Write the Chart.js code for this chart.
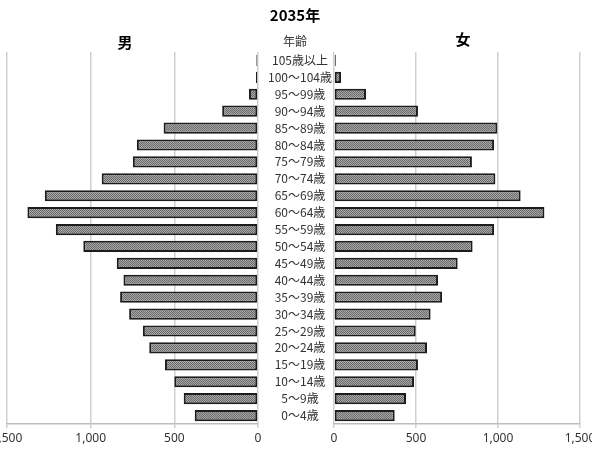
<!DOCTYPE html>
<html>
<head>
<meta charset="utf-8">
<script src="https://cdn.jsdelivr.net/npm/chart.js@4/dist/chart.umd.min.js"></script>
<style>
  body { margin: 0; background: #fff; width: 592px; height: 449px; overflow: hidden; position: relative; font-family: "Noto Sans CJK JP", "Noto Sans", sans-serif; }
  #male { position: absolute; left: 0; top: 0; }
  #female { position: absolute; left: 294px; top: 0; }
  .lbl { position: absolute; transform: translate(-50%, -50%); white-space: nowrap; color: #000; }
</style>
</head>
<body>
<canvas id="male" width="334" height="449"></canvas>
<canvas id="female" width="298" height="449"></canvas>
<div class="lbl" style="left:295px; top:14px; font-size:15px; font-weight:bold;">2035年</div>
<div class="lbl" style="left:125px; top:41px; font-size:15px; font-weight:bold;">男</div>
<div class="lbl" style="left:463px; top:38px; font-size:15px; font-weight:bold;">女</div>
<div class="lbl" style="left:295px; top:40px; font-size:12px; color:#333;">年齢</div>
<script>
var ages = ['105歳以上', '100〜104歳', '95〜99歳', '90〜94歳', '85〜89歳', '80〜84歳', '75〜79歳', '70〜74歳',
  '65〜69歳', '60〜64歳', '55〜59歳', '50〜54歳', '45〜49歳', '40〜44歳', '35〜39歳', '30〜34歳',
  '25〜29歳', '20〜24歳', '15〜19歳', '10〜14歳', '5〜9歳', '0〜4歳'];
var male = [10, 12, 54, 214, 564, 724, 748, 934, 1274, 1378, 1208, 1044, 844, 804, 824, 770, 688, 650, 556, 500, 444, 378];
var female = [11, 43, 195, 512, 996, 976, 841, 984, 1138, 1283, 976, 845, 754, 634, 659, 589, 498, 567, 512, 488, 439, 370];
var axisMax = 1500;
var axisStep = 500;

// dotted gray fill like the excel pattern
function makePattern() {
  var c = document.createElement('canvas');
  c.width = 2;
  c.height = 2;
  var g = c.getContext('2d');
  g.fillStyle = '#a8a8a8';
  g.fillRect(0, 0, 2, 2);
  g.fillStyle = '#6a6a6a';
  g.fillRect(0, 0, 1, 1);
  g.fillRect(1, 1, 1, 1);
  return g.createPattern(c, 'repeat');
}
var fill = makePattern();

function xAxis(reverse) {
  return {
    reverse: reverse,
    min: 0,
    max: axisMax,
    ticks: {
      stepSize: axisStep,
      maxRotation: 0,
      color: '#333',
      font: { family: '"Noto Sans", sans-serif', size: 12 },
      padding: 3,
      callback: function(v) { return Number(v).toLocaleString('en-US'); }
    },
    grid: { color: '#cfcfcf', lineWidth: 1.5, tickLength: 4 },
    border: { color: '#bdbdbd', width: 1.5 },
    afterFit: function(scale) {
      scale.height = 25;
      scale.paddingLeft = 0;
      scale.paddingRight = 0;
    }
  };
}

function dataset(values) {
  return {
    data: values,
    backgroundColor: fill,
    borderColor: '#1c1c1c',
    borderWidth: 2,
    borderSkipped: false,
    barPercentage: 0.66,
    categoryPercentage: 1
  };
}

var commonPlugins = {
  legend: { display: false },
  tooltip: { enabled: false },
  title: { display: false }
};

new Chart(document.getElementById('male'), {
  type: 'bar',
  data: { labels: ages, datasets: [dataset(male)] },
  options: {
    indexAxis: 'y',
    responsive: false,
    animation: false,
    layout: { padding: { top: 52, left: 7, right: 0, bottom: 0 } },
    scales: {
      x: xAxis(true),
      y: {
        position: 'right',
        grid: { display: false },
        border: { display: false },
        ticks: {
          crossAlign: 'center',
          padding: 2,
          autoSkip: false,
          color: '#333',
          font: { family: '"Noto Sans CJK JP", sans-serif', size: 12 }
        },
        afterFit: function(scale) { scale.width = 76; }
      }
    },
    plugins: commonPlugins
  }
});

new Chart(document.getElementById('female'), {
  type: 'bar',
  data: { labels: ages, datasets: [dataset(female)] },
  options: {
    indexAxis: 'y',
    responsive: false,
    animation: false,
    layout: { padding: { top: 52, left: 40, right: 12, bottom: 0 } },
    scales: {
      x: xAxis(false),
      y: { display: false }
    },
    plugins: commonPlugins
  }
});
</script>
</body>
</html>
